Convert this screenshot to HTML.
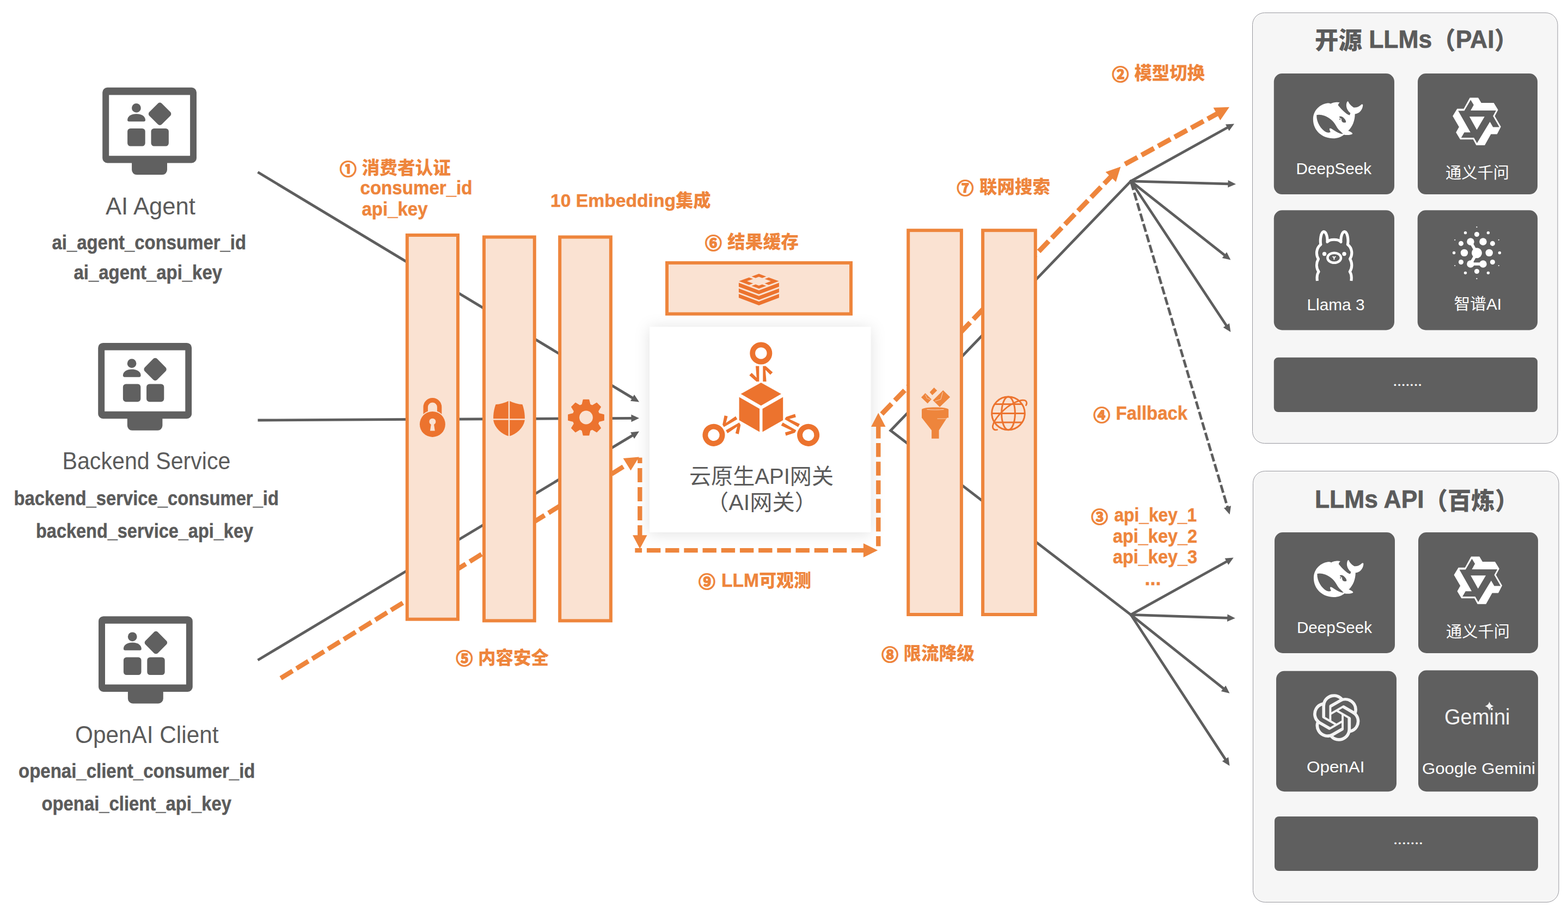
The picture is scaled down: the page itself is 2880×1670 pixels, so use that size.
<!DOCTYPE html>
<html lang="zh-CN">
<head>
<meta charset="utf-8">
<title>云原生API网关（AI网关）</title>
<style>
html,body{margin:0;padding:0;background:#fff;}
body{width:2880px;height:1670px;overflow:hidden;}
svg{display:block;font-family:'Liberation Sans', 'Noto Sans CJK SC', sans-serif;}
.cn{stroke:#EE853C;stroke-width:2.2px;stroke-linejoin:round;}
.ttl{stroke:#5B5B5B;stroke-width:0.7px;}
.bl{stroke:#5B5B5B;stroke-width:0.5px;}
.ob{stroke:#EE853C;stroke-width:0.5px;}
</style>
</head>
<body>
<svg width="2880" height="1670" viewBox="0 0 2880 1670">
<defs>
<filter id="sh" x="-25%" y="-25%" width="150%" height="150%"><feDropShadow dx="0" dy="2" stdDeviation="14" flood-color="#000000" flood-opacity="0.12"/></filter>
</defs>
<!-- client request lines -->
<line x1="473.5" y1="316.3" x2="1162.75" y2="731.62" stroke="#5E5E5E" stroke-width="4.8" stroke-linecap="butt"/>
<polygon points="1174,738.4 1157.99,736.69 1165,725.04" fill="#5E5E5E"/>
<line x1="473.5" y1="772" x2="1160.86" y2="768.37" stroke="#5E5E5E" stroke-width="4.8" stroke-linecap="butt"/>
<polygon points="1174,768.3 1159.44,775.18 1159.36,761.58" fill="#5E5E5E"/>
<line x1="473.5" y1="1212.8" x2="1162.73" y2="799.36" stroke="#5E5E5E" stroke-width="4.8" stroke-linecap="butt"/>
<polygon points="1174,792.6 1164.98,805.94 1157.98,794.28" fill="#5E5E5E"/>
<line x1="515.7" y1="1246" x2="1153.76" y2="851.94" stroke="#EE853C" stroke-width="8.6" stroke-linecap="butt" stroke-dasharray="25.5 8.5"/>
<polygon points="1173.9,839.5 1158.49,864.59 1144.56,842.05" fill="#EE853C"/>
<path d="M2077 332.8L1635.8 791L2077 1129.3" fill="none" stroke="#5E5E5E" stroke-width="4.8" stroke-linejoin="miter" stroke-linecap="round"/>
<line x1="2077" y1="332.8" x2="2255.51" y2="233.77" stroke="#5E5E5E" stroke-width="4.8" stroke-linecap="round"/>
<polygon points="2267,227.4 2257.53,240.43 2250.93,228.54" fill="#5E5E5E"/>
<line x1="2077" y1="332.8" x2="2256.87" y2="337.83" stroke="#5E5E5E" stroke-width="4.8" stroke-linecap="round"/>
<polygon points="2270,338.2 2255.22,344.59 2255.6,330.99" fill="#5E5E5E"/>
<line x1="2077" y1="332.8" x2="2250.09" y2="469.46" stroke="#5E5E5E" stroke-width="4.8" stroke-linecap="round"/>
<polygon points="2260.4,477.6 2244.73,473.89 2253.15,463.22" fill="#5E5E5E"/>
<line x1="2077" y1="332.8" x2="2253.15" y2="599.04" stroke="#5E5E5E" stroke-width="4.8" stroke-linecap="round"/>
<polygon points="2260.4,610 2246.67,601.58 2258.02,594.07" fill="#5E5E5E"/>
<line x1="2077.6" y1="334.8" x2="2254.86" y2="932.7" stroke="#5E5E5E" stroke-width="4.8" stroke-linecap="butt" stroke-dasharray="15 5"/>
<polygon points="2258.6,945.3 2247.93,933.24 2260.97,929.37" fill="#5E5E5E"/>
<line x1="2077" y1="1129.3" x2="2254.21" y2="1030.98" stroke="#5E5E5E" stroke-width="4.8" stroke-linecap="round"/>
<polygon points="2265.7,1024.6 2256.23,1037.63 2249.63,1025.74" fill="#5E5E5E"/>
<line x1="2077" y1="1129.3" x2="2255.67" y2="1135.35" stroke="#5E5E5E" stroke-width="4.8" stroke-linecap="round"/>
<polygon points="2268.8,1135.8 2253.98,1142.1 2254.44,1128.51" fill="#5E5E5E"/>
<line x1="2077" y1="1129.3" x2="2248.22" y2="1265.62" stroke="#5E5E5E" stroke-width="4.8" stroke-linecap="round"/>
<polygon points="2258.5,1273.8 2242.84,1270.03 2251.31,1259.39" fill="#5E5E5E"/>
<line x1="2077" y1="1129.3" x2="2251.31" y2="1395.9" stroke="#5E5E5E" stroke-width="4.8" stroke-linecap="round"/>
<polygon points="2258.5,1406.9 2244.82,1398.4 2256.2,1390.96" fill="#5E5E5E"/>
<line x1="1619.6" y1="760.6" x2="2041.96" y2="323.23" stroke="#EE853C" stroke-width="9" stroke-linecap="butt" stroke-dasharray="26 8.6"/>
<polygon points="2058.4,306.2 2049.66,334.32 2030.6,315.91" fill="#EE853C"/>
<line x1="2063.7" y1="303" x2="2237.23" y2="208.06" stroke="#EE853C" stroke-width="9" stroke-linecap="butt" stroke-dasharray="26 8.6" stroke-dashoffset="31.6"/>
<polygon points="2258,196.7 2241.29,220.95 2228.57,197.7" fill="#EE853C"/>
<!-- plugin bars -->
<rect x="747.8" y="432" width="93.2" height="705.7" fill="#FAE2D2" stroke="#EE853C" stroke-width="6"/>
<rect x="889" y="435.5" width="92.8" height="704.9" fill="#FAE2D2" stroke="#EE853C" stroke-width="6"/>
<rect x="1028.2" y="435.5" width="93.7" height="704.9" fill="#FAE2D2" stroke="#EE853C" stroke-width="6"/>
<rect x="1668.2" y="423.2" width="97.7" height="705.8" fill="#FAE2D2" stroke="#EE853C" stroke-width="6"/>
<rect x="1805.1" y="423.2" width="96.7" height="705.8" fill="#FAE2D2" stroke="#EE853C" stroke-width="6"/>
<g>
<path d="M781.7 761.4V748a12.7 12.7 0 0 1 25.4 0V761.4" fill="none" stroke="#EC732E" stroke-width="8.4"/>
<circle cx="794.4" cy="779.4" r="25.2" fill="#FAE2D2"/>
<circle cx="794.4" cy="779.4" r="23.5" fill="#EC732E"/>
<path d="M791.7 780a6 6 0 1 1 5.4 0L798.8 791.4H790Z" fill="#FAE2D2"/>
</g>
<g>
<path d="M935 736.2C943 740.2 952 742.6 959.5 743C963 752.2 964.6 764.2 963.6 773.2C961 786.2 949 797.2 935 801.6C921 797.2 909 786.2 906.4 773.2C905.4 764.2 907 752.2 910.5 743C918 742.6 927 740.2 935 736.2Z" fill="#EC732E"/>
<rect x="933.8" y="735.2" width="2.4" height="68" fill="#FAE2D2"/>
<rect x="904" y="769.2" width="62" height="2.4" fill="#FAE2D2"/>
</g>
<g>
<path d="M1069.23 743.5L1071.41 734.4L1081.59 734.4L1083.77 743.5L1087.98 745.24L1095.95 740.34L1103.16 747.55L1098.26 755.52L1100 759.73L1109.1 761.91L1109.1 772.09L1100 774.27L1098.26 778.48L1103.16 786.45L1095.95 793.66L1087.98 788.76L1083.77 790.5L1081.59 799.6L1071.41 799.6L1069.23 790.5L1065.02 788.76L1057.05 793.66L1049.84 786.45L1054.74 778.48L1053 774.27L1043.9 772.09L1043.9 761.91L1053 759.73L1054.74 755.52L1049.84 747.55L1057.05 740.34L1065.02 745.24Z" fill="#EC732E" stroke="#EC732E" stroke-width="1.5" stroke-linejoin="round"/>
<circle cx="1076.5" cy="767" r="24.6" fill="#EC732E"/>
<circle cx="1076.5" cy="767" r="12.4" fill="#FAE2D2"/>
</g>
<g fill="#EE853C">
<polygon points="1732.2,717 1745.1,729.5 1726,747.8 1713.6,735.4"/>
<polygon points="1699.5,722.2 1710.9,733.5 1703.7,741.3 1692,729.9"/>
<polygon points="1715.6,712 1721.2,717.5 1712.4,725.9 1707.6,720.6"/>
<path d="M1731.5 720.5L1728 733.5L1717.5 737" fill="none" stroke="#FAE2D2" stroke-width="0.8"/>
<path d="M1699.8 725L1702.5 731.8L1708.5 733.8" fill="none" stroke="#FAE2D2" stroke-width="0.7"/>
<path d="M1693 752.5C1693 746.8 1742.2 746.8 1742.2 752.5V767.4H1739.4L1724.6 790.4V805.8H1711.1V790.4L1693 767.4Z"/>
<path d="M1702.5 752.3C1712 753.2 1723 753.2 1733.5 752.3" fill="none" stroke="#FAE2D2" stroke-width="0.9"/>
<path d="M1721.5 769.2H1738.3" fill="none" stroke="#FAE2D2" stroke-width="0.8"/>
</g>
<g fill="none" stroke="#EC732E" stroke-width="3">
<circle cx="1852" cy="759.4" r="30.3"/>
<ellipse cx="1852" cy="759.4" rx="12.4" ry="30.3"/>
<path d="M1821.7 759.4H1882.3"/>
<path d="M1826.8 742.4H1877.2"/>
<path d="M1826.8 775.9H1877.2"/>
<path d="M1831.5 789.5C1826 791 1822.5 787.5 1823.5 782C1826 770 1845 748 1864 739.5C1872 735.5 1881 733.5 1884.5 737C1886.5 739.5 1886 742 1884.5 744.5" stroke-linecap="round" stroke-width="2.8"/>
</g>
<rect x="1225" y="482.9" width="338" height="93.8" fill="#FAE2D2" stroke="#EE853C" stroke-width="6"/>
<g fill="#EC732E">
<polygon points="1393.9,503 1407.3,507.98 1399.98,510.7 1393.9,508.44 1387.82,510.7 1380.5,507.98"/>
<polygon points="1430.5,516.6 1411.94,523.5 1404.62,520.78 1415.86,516.6 1404.62,512.42 1411.94,509.7"/>
<polygon points="1393.9,530.2 1380.5,525.22 1387.82,522.5 1393.9,524.76 1399.98,522.5 1407.3,525.22"/>
<polygon points="1357.3,516.6 1375.86,509.7 1383.18,512.42 1371.94,516.6 1383.18,520.78 1375.86,523.5"/>
<polygon points="1356.9,519.6 1393.9,533.5 1430.9,519.6 1430.9,526.7 1393.9,540.6 1356.9,526.7"/>
<polygon points="1356.9,529.9 1393.9,543.8 1430.9,529.9 1430.9,537 1393.9,550.9 1356.9,537"/>
<polygon points="1356.9,540 1393.9,553.9 1430.9,540 1430.9,547.1 1393.9,561 1356.9,547.1"/>
</g>
<!-- gateway -->
<rect x="1193.2" y="600.7" width="405.9" height="377.3" fill="#FFFFFF" filter="url(#sh)"/>
<g fill="#EC732E">
<polygon points="1397.8,702.9 1434.9,723.8 1397.8,745.3 1360.7,723.8"/>
<polygon points="1357.6,729.6 1395.1,750.9 1395.1,793.4 1357.6,772.1"/>
<polygon points="1400.5,750.9 1438.2,729.6 1438.2,772.1 1400.5,793.4"/>
<g transform="rotate(0 1397.8 749.2)">
<circle cx="1397.8" cy="648.9" r="15.6" fill="none" stroke="#EC732E" stroke-width="9.8"/>
<path d="M1388 672.5h6.3v28.5h-5L1376.3 689.5l4.4 -4.4 9 9Z"/>
<path d="M1407.6 701h-6.3v-28.5h5L1419.3 684l-4.4 4.4 -9 -9Z"/>
</g>
<g transform="rotate(120 1397.8 749.2)">
<circle cx="1397.8" cy="648.9" r="15.6" fill="none" stroke="#EC732E" stroke-width="9.8"/>
<path d="M1388 672.5h6.3v28.5h-5L1376.3 689.5l4.4 -4.4 9 9Z"/>
<path d="M1407.6 701h-6.3v-28.5h5L1419.3 684l-4.4 4.4 -9 -9Z"/>
</g>
<g transform="rotate(240 1397.8 749.2)">
<circle cx="1397.8" cy="648.9" r="15.6" fill="none" stroke="#EC732E" stroke-width="9.8"/>
<path d="M1388 672.5h6.3v28.5h-5L1376.3 689.5l4.4 -4.4 9 9Z"/>
<path d="M1407.6 701h-6.3v-28.5h5L1419.3 684l-4.4 4.4 -9 -9Z"/>
</g>
</g>
<line x1="1175.3" y1="840.8" x2="1175.3" y2="985.7" stroke="#EE853C" stroke-width="8.4" stroke-linecap="butt" stroke-dasharray="26 9" stroke-dashoffset="15.7"/>
<polygon points="1175.3,1008.2 1162.05,983.2 1188.55,983.2" fill="#EE853C"/>
<line x1="1166.3" y1="1011.1" x2="1588.53" y2="1011.1" stroke="#EE853C" stroke-width="8.4" stroke-linecap="butt" stroke-dasharray="25.4 8.8" stroke-dashoffset="12.6"/>
<polygon points="1612.2,1011.1 1585.9,1023.9 1585.9,998.3" fill="#EE853C"/>
<line x1="1613.3" y1="1003.4" x2="1613.3" y2="781.45" stroke="#EE853C" stroke-width="8.4" stroke-linecap="butt" stroke-dasharray="25.6 8.6" stroke-dashoffset="7.2"/>
<polygon points="1613.3,758.5 1626.55,784 1600.05,784" fill="#EE853C"/>
<!-- clients -->
<g transform="translate(188.2,160.8) scale(1.0000,1.0000) translate(-188.2,-160.8)" fill="#606060">
<path fill-rule="evenodd" d="M197.2 160.8H352a9 9 0 0 1 9 9V290.5a9 9 0 0 1 -9 9H307V312.1a9 9 0 0 1 -9 9H251.1a9 9 0 0 1 -9 -9V299.5H197.2a9 9 0 0 1 -9 -9V169.8a9 9 0 0 1 9 -9ZM200.2 174.4V286.2H349.1V174.4Z"/>
<circle cx="250.4" cy="198.4" r="8.4"/>
<path d="M234.1 220.5C234.1 213.5 241 209.2 250.5 209.2C260 209.2 267 213.5 267 220.5C267 222.3 265.9 223.3 264.2 223.3H236.9C235.2 223.3 234.1 222.3 234.1 220.5Z"/>
<rect x="277.5" y="193.1" width="32.2" height="32.2" rx="4.9" transform="rotate(45 293.6 209.2)"/>
<rect x="234.1" y="236" width="32.6" height="32.6" rx="5.5"/>
<rect x="277.5" y="236" width="32.4" height="32.6" rx="5.5"/>
</g>
<g transform="translate(180.2,629.9) scale(0.9950,1.0040) translate(-188.2,-160.8)" fill="#606060">
<path fill-rule="evenodd" d="M197.2 160.8H352a9 9 0 0 1 9 9V290.5a9 9 0 0 1 -9 9H307V312.1a9 9 0 0 1 -9 9H251.1a9 9 0 0 1 -9 -9V299.5H197.2a9 9 0 0 1 -9 -9V169.8a9 9 0 0 1 9 -9ZM200.2 174.4V286.2H349.1V174.4Z"/>
<circle cx="250.4" cy="198.4" r="8.4"/>
<path d="M234.1 220.5C234.1 213.5 241 209.2 250.5 209.2C260 209.2 267 213.5 267 220.5C267 222.3 265.9 223.3 264.2 223.3H236.9C235.2 223.3 234.1 222.3 234.1 220.5Z"/>
<rect x="277.5" y="193.1" width="32.2" height="32.2" rx="4.9" transform="rotate(45 293.6 209.2)"/>
<rect x="234.1" y="236" width="32.6" height="32.6" rx="5.5"/>
<rect x="277.5" y="236" width="32.4" height="32.6" rx="5.5"/>
</g>
<g transform="translate(181,1132.2) scale(1.0000,1.0000) translate(-188.2,-160.8)" fill="#606060">
<path fill-rule="evenodd" d="M197.2 160.8H352a9 9 0 0 1 9 9V290.5a9 9 0 0 1 -9 9H307V312.1a9 9 0 0 1 -9 9H251.1a9 9 0 0 1 -9 -9V299.5H197.2a9 9 0 0 1 -9 -9V169.8a9 9 0 0 1 9 -9ZM200.2 174.4V286.2H349.1V174.4Z"/>
<circle cx="250.4" cy="198.4" r="8.4"/>
<path d="M234.1 220.5C234.1 213.5 241 209.2 250.5 209.2C260 209.2 267 213.5 267 220.5C267 222.3 265.9 223.3 264.2 223.3H236.9C235.2 223.3 234.1 222.3 234.1 220.5Z"/>
<rect x="277.5" y="193.1" width="32.2" height="32.2" rx="4.9" transform="rotate(45 293.6 209.2)"/>
<rect x="234.1" y="236" width="32.6" height="32.6" rx="5.5"/>
<rect x="277.5" y="236" width="32.4" height="32.6" rx="5.5"/>
</g>
<!-- model panels -->
<rect x="2300.5" y="23.5" width="560.5" height="791" rx="22" fill="#F6F6F6" stroke="#98989E" stroke-width="1"/>
<rect x="2301.5" y="865.5" width="561.5" height="792" rx="22" fill="#F6F6F6" stroke="#98989E" stroke-width="1"/>
<rect x="2339.8" y="135.1" width="221.2" height="222" fill="#5F5F5F" rx="15"/>
<rect x="2604" y="135.1" width="220" height="222" fill="#5F5F5F" rx="15"/>
<rect x="2339.8" y="386.3" width="221.2" height="220.1" fill="#5F5F5F" rx="15"/>
<rect x="2603.7" y="386.3" width="220.4" height="220.1" fill="#5F5F5F" rx="15"/>
<rect x="2339.8" y="656.7" width="484.2" height="100.3" fill="#5F5F5F" rx="8"/>
<rect x="2341" y="978" width="221" height="222" fill="#5F5F5F" rx="15"/>
<rect x="2605" y="978" width="220" height="222" fill="#5F5F5F" rx="15"/>
<rect x="2344" y="1232.8" width="221" height="221.4" fill="#5F5F5F" rx="15"/>
<rect x="2605" y="1231.5" width="220" height="222.7" fill="#5F5F5F" rx="15"/>
<rect x="2341" y="1499.9" width="484" height="100.1" fill="#5F5F5F" rx="8"/>
<g transform="translate(2390,165) scale(0.07530)">
<path fill="#FFFFFF" d="M640 325C480 345 290 480 290 720C290 1000 520 1185 780 1185C880 1185 980 1150 1040 1095C1100 1105 1200 1110 1250 1075C1260 1050 1200 1020 1145 1000C1250 900 1310 750 1310 590C1400 590 1500 500 1505 370C1490 340 1470 350 1450 375C1400 420 1330 440 1280 430C1230 400 1170 350 1150 290C1130 270 1105 290 1100 380C1100 460 1150 530 1200 570L1180 620C1100 600 1000 500 900 380C900 350 920 325 940 310C880 290 760 310 720 340C700 330 670 322 640 325Z"/>
<path fill="#5F5F5F" d="M375 615C450 590 600 620 720 720C830 810 850 900 920 980C960 1020 1000 1050 1020 1075C950 1080 880 1040 800 990C760 960 720 930 695 940C680 960 700 1000 715 1030C690 1050 640 1050 600 1030C480 960 370 800 375 615Z"/>
<path fill="#5F5F5F" d="M925 660C950 630 1010 650 1050 700C1080 730 1100 770 1090 790C1070 810 1020 800 1000 780C980 760 985 720 975 700C960 690 940 690 925 660Z"/>
<circle cx="945" cy="716" r="15" fill="#5F5F5F"/>
</g>
<g transform="translate(2650,165) scale(0.07530)">
<polygon points="665,200 860,200 935,325 1240,325 1340,490 1260,640 1410,900 1320,1075 1170,1075 1020,1345 820,1345 745,1205 430,1205 330,1040 405,905 250,640 355,470 515,470" fill="#FFFFFF" stroke="#FFFFFF" stroke-width="14" stroke-linejoin="round"/>
<polygon points="680,245 755,370 680,505 1300,505 1225,640 1380,910 1225,910 1150,780 835,1300 760,1170 450,1170 525,1040 675,1040 375,510 525,510" fill="#5F5F5F"/>
<polygon points="650,655 1020,655 830,975" fill="#FFFFFF"/>
</g>
<g transform="translate(2380,410) scale(0.08216)" fill="none" stroke="#FFFFFF" stroke-width="62" stroke-linecap="butt" stroke-linejoin="round">
<path d="M480 1290C468 1200 480 1130 512 1085C455 1000 455 890 505 800C445 700 455 560 558 478C540 380 560 200 625 190C690 200 712 330 705 420C760 350 950 350 1010 420C1000 330 1030 200 1090 190C1160 200 1180 380 1160 478C1265 560 1275 700 1212 800C1265 890 1265 1000 1208 1085C1240 1130 1252 1200 1240 1290"/>
<ellipse cx="860" cy="775" rx="150" ry="110" stroke-width="55"/>
<circle cx="640" cy="688" r="45" fill="#FFFFFF" stroke="none"/>
<circle cx="1083" cy="688" r="45" fill="#FFFFFF" stroke="none"/>
<path d="M832 750L857 770L884 750M857 770V805" stroke-width="26" stroke-linecap="round"/>
</g>
<g transform="translate(2642,404) scale(0.08216)" fill="#FFFFFF">
<circle cx="858" cy="740" r="115"/>
<circle cx="718" cy="488" r="82"/>
<circle cx="998" cy="488" r="82"/>
<circle cx="578" cy="735" r="82"/>
<circle cx="1135" cy="735" r="82"/>
<circle cx="718" cy="985" r="82"/>
<circle cx="998" cy="985" r="82"/>
<circle cx="858" cy="322" r="55"/>
<circle cx="505" cy="528" r="55"/>
<circle cx="1210" cy="528" r="55"/>
<circle cx="505" cy="943" r="55"/>
<circle cx="1210" cy="943" r="55"/>
<circle cx="858" cy="1150" r="55"/>
<circle cx="603" cy="288" r="33"/>
<circle cx="1113" cy="288" r="33"/>
<circle cx="348" cy="737" r="33"/>
<circle cx="1368" cy="737" r="33"/>
<circle cx="603" cy="1185" r="33"/>
<circle cx="1113" cy="1185" r="33"/>
<circle cx="857" cy="160" r="13"/>
<circle cx="368" cy="447" r="13"/>
<circle cx="1348" cy="447" r="13"/>
<circle cx="368" cy="1023" r="13"/>
<circle cx="1348" cy="1023" r="13"/>
<circle cx="857" cy="1313" r="13"/>
<path d="M718 488L858 740L718 985L998 985" fill="none" stroke="#FFFFFF" stroke-width="66" stroke-linecap="round" stroke-linejoin="round"/>
</g>
<g transform="translate(2391.1,1007.8) scale(0.07530)">
<path fill="#FFFFFF" d="M640 325C480 345 290 480 290 720C290 1000 520 1185 780 1185C880 1185 980 1150 1040 1095C1100 1105 1200 1110 1250 1075C1260 1050 1200 1020 1145 1000C1250 900 1310 750 1310 590C1400 590 1500 500 1505 370C1490 340 1470 350 1450 375C1400 420 1330 440 1280 430C1230 400 1170 350 1150 290C1130 270 1105 290 1100 380C1100 460 1150 530 1200 570L1180 620C1100 600 1000 500 900 380C900 350 920 325 940 310C880 290 760 310 720 340C700 330 670 322 640 325Z"/>
<path fill="#5F5F5F" d="M375 615C450 590 600 620 720 720C830 810 850 900 920 980C960 1020 1000 1050 1020 1075C950 1080 880 1040 800 990C760 960 720 930 695 940C680 960 700 1000 715 1030C690 1050 640 1050 600 1030C480 960 370 800 375 615Z"/>
<path fill="#5F5F5F" d="M925 660C950 630 1010 650 1050 700C1080 730 1100 770 1090 790C1070 810 1020 800 1000 780C980 760 985 720 975 700C960 690 940 690 925 660Z"/>
<circle cx="945" cy="716" r="15" fill="#5F5F5F"/>
</g>
<g transform="translate(2652.3,1008) scale(0.07530)">
<polygon points="665,200 860,200 935,325 1240,325 1340,490 1260,640 1410,900 1320,1075 1170,1075 1020,1345 820,1345 745,1205 430,1205 330,1040 405,905 250,640 355,470 515,470" fill="#FFFFFF" stroke="#FFFFFF" stroke-width="14" stroke-linejoin="round"/>
<polygon points="680,245 755,370 680,505 1300,505 1225,640 1380,910 1225,910 1150,780 835,1300 760,1170 450,1170 525,1040 675,1040 375,510 525,510" fill="#5F5F5F"/>
<polygon points="650,655 1020,655 830,975" fill="#FFFFFF"/>
</g>
<path transform="translate(2411.45,1275.15) scale(3.6042)" fill="#F4F4F4" d="M22.2819 9.8211a5.9847 5.9847 0 0 0-.5157-4.9108 6.0462 6.0462 0 0 0-6.5098-2.9A6.0651 6.0651 0 0 0 4.9807 4.1818a5.9847 5.9847 0 0 0-3.9977 2.9 6.0462 6.0462 0 0 0 .7427 7.0966 5.98 5.98 0 0 0 .511 4.9107 6.051 6.051 0 0 0 6.5146 2.9001A5.9847 5.9847 0 0 0 13.2599 24a6.0557 6.0557 0 0 0 5.7718-4.2058 5.9894 5.9894 0 0 0 3.9977-2.9001 6.0557 6.0557 0 0 0-.7475-7.0729zm-9.022 12.6081a4.4755 4.4755 0 0 1-2.8764-1.0408l.1419-.0804 4.7783-2.7582a.7948.7948 0 0 0 .3927-.6813v-6.7369l2.02 1.1686a.071.071 0 0 1 .038.052v5.5826a4.504 4.504 0 0 1-4.4945 4.4944zm-9.6607-4.1254a4.4708 4.4708 0 0 1-.5346-3.0137l.142.0852 4.783 2.7582a.7712.7712 0 0 0 .7806 0l5.8428-3.3685v2.3324a.0804.0804 0 0 1-.0332.0615L9.74 19.9502a4.4992 4.4992 0 0 1-6.1408-1.6464zM2.3408 7.8956a4.485 4.485 0 0 1 2.3655-1.9728V11.6a.7664.7664 0 0 0 .3879.6765l5.8144 3.3543-2.0201 1.1685a.0757.0757 0 0 1-.071 0l-4.8303-2.7865A4.504 4.504 0 0 1 2.3408 7.872zm16.5963 3.8558L13.1038 8.364 15.1192 7.2a.0757.0757 0 0 1 .071 0l4.8303 2.7913a4.4944 4.4944 0 0 1-.6765 8.1042v-5.6772a.79.79 0 0 0-.407-.667zm2.0107-3.0231l-.142-.0852-4.7735-2.7818a.7759.7759 0 0 0-.7854 0L9.409 9.2297V6.8974a.0662.0662 0 0 1 .0284-.0615l4.8303-2.7866a4.4992 4.4992 0 0 1 6.6802 4.66zM8.3065 12.863l-2.02-1.1638a.0804.0804 0 0 1-.038-.0567V6.0742a4.4992 4.4992 0 0 1 7.3757-3.4537l-.142.0805L8.704 5.459a.7948.7948 0 0 0-.3927.6813zm1.0976-2.3654l2.602-1.4998 2.6069 1.4998v2.9994l-2.5974 1.4997-2.6067-1.4997Z"/>
<text x="2652.9" y="1331.1" font-size="41" font-weight="400" fill="#F2F2F2" text-anchor="start" textLength="120.7" lengthAdjust="spacingAndGlyphs">Gemini</text>
<path fill="#F2F2F2" d="M2735.6 1289.1C2736.8 1293.7 2739.2 1296.1 2743.8 1297.3C2739.2 1298.5 2736.8 1300.9 2735.6 1305.5C2734.4 1300.9 2732 1298.5 2727.4 1297.3C2732 1296.1 2734.4 1293.7 2735.6 1289.1Z"/>
<!-- labels -->
<text x="194" y="393.7" font-size="43.6" font-weight="400" fill="#5B5B5B" text-anchor="start" textLength="165" lengthAdjust="spacingAndGlyphs">AI Agent</text>
<text x="114.5" y="862.2" font-size="43.6" font-weight="400" fill="#5B5B5B" text-anchor="start" textLength="309" lengthAdjust="spacingAndGlyphs">Backend Service</text>
<text x="138" y="1364.5" font-size="43.6" font-weight="400" fill="#5B5B5B" text-anchor="start" textLength="263.5" lengthAdjust="spacingAndGlyphs">OpenAI Client</text>
<text x="95.5" y="457.9" font-size="37" font-weight="700" fill="#5B5B5B" text-anchor="start" textLength="356.5" lengthAdjust="spacingAndGlyphs" class="bl">ai_agent_consumer_id</text>
<text x="135.5" y="513.2" font-size="37" font-weight="700" fill="#5B5B5B" text-anchor="start" textLength="272.5" lengthAdjust="spacingAndGlyphs" class="bl">ai_agent_api_key</text>
<text x="25.5" y="927.6" font-size="37" font-weight="700" fill="#5B5B5B" text-anchor="start" textLength="486.5" lengthAdjust="spacingAndGlyphs" class="bl">backend_service_consumer_id</text>
<text x="66" y="987.9" font-size="37" font-weight="700" fill="#5B5B5B" text-anchor="start" textLength="399" lengthAdjust="spacingAndGlyphs" class="bl">backend_service_api_key</text>
<text x="34" y="1429.1" font-size="37" font-weight="700" fill="#5B5B5B" text-anchor="start" textLength="434.5" lengthAdjust="spacingAndGlyphs" class="bl">openai_client_consumer_id</text>
<text x="76.5" y="1489.4" font-size="37" font-weight="700" fill="#5B5B5B" text-anchor="start" textLength="348.5" lengthAdjust="spacingAndGlyphs" class="bl">openai_client_api_key</text>
<text x="639.5" y="321.51" font-size="30.3" font-weight="500" fill="#EE853C" text-anchor="middle" class="cn">①</text>
<text x="664.5" y="320.39" font-size="32.6" font-weight="900" fill="#EE853C" text-anchor="start" textLength="163.5" lengthAdjust="spacingAndGlyphs">消费者认证</text>
<text x="1310.4" y="457.61" font-size="30.3" font-weight="500" fill="#EE853C" text-anchor="middle" class="cn">⑥</text>
<text x="1336" y="455.89" font-size="32.6" font-weight="900" fill="#EE853C" text-anchor="start" textLength="131" lengthAdjust="spacingAndGlyphs">结果缓存</text>
<text x="852.9" y="1220.71" font-size="30.3" font-weight="500" fill="#EE853C" text-anchor="middle" class="cn">⑤</text>
<text x="878" y="1219.64" font-size="32.6" font-weight="900" fill="#EE853C" text-anchor="start" textLength="130" lengthAdjust="spacingAndGlyphs">内容安全</text>
<text x="1298.5" y="1079.71" font-size="30.3" font-weight="500" fill="#EE853C" text-anchor="middle" class="cn">⑨</text>
<text x="1325" y="1077.89" font-size="32.6" font-weight="900" fill="#EE853C" text-anchor="start" textLength="165" lengthAdjust="spacingAndGlyphs"><tspan font-size="34.3" font-weight="700" class="ob">LLM</tspan>可观测</text>
<text x="1634.6" y="1213.71" font-size="30.3" font-weight="500" fill="#EE853C" text-anchor="middle" class="cn">⑧</text>
<text x="1659.5" y="1211.89" font-size="32.6" font-weight="900" fill="#EE853C" text-anchor="start" textLength="130.5" lengthAdjust="spacingAndGlyphs">限流降级</text>
<text x="2057.9" y="147.71" font-size="30.3" font-weight="500" fill="#EE853C" text-anchor="middle" class="cn">②</text>
<text x="2083.5" y="145.89" font-size="32.6" font-weight="900" fill="#EE853C" text-anchor="start" textLength="129.5" lengthAdjust="spacingAndGlyphs">模型切换</text>
<text x="1772.9" y="356.51" font-size="30.3" font-weight="500" fill="#EE853C" text-anchor="middle" class="cn">⑦</text>
<text x="1799" y="355.39" font-size="32.6" font-weight="900" fill="#EE853C" text-anchor="start" textLength="130" lengthAdjust="spacingAndGlyphs">联网搜索</text>
<text x="2023.6" y="774.41" font-size="30.3" font-weight="500" fill="#EE853C" text-anchor="middle" class="cn">④</text>
<text x="2049.5" y="771.2" font-size="34.8" font-weight="700" fill="#EE853C" text-anchor="start" textLength="131.5" lengthAdjust="spacingAndGlyphs" class="ob">Fallback</text>
<text x="2019.7" y="960.91" font-size="30.3" font-weight="500" fill="#EE853C" text-anchor="middle" class="cn">③</text>
<text x="2046.5" y="958" font-size="34.8" font-weight="700" fill="#EE853C" text-anchor="start" textLength="151.5" lengthAdjust="spacingAndGlyphs" class="ob">api_key_1</text>
<text x="2044" y="996.5" font-size="34.8" font-weight="700" fill="#EE853C" text-anchor="start" textLength="155" lengthAdjust="spacingAndGlyphs" class="ob">api_key_2</text>
<text x="2044" y="1035.3" font-size="34.8" font-weight="700" fill="#EE853C" text-anchor="start" textLength="155" lengthAdjust="spacingAndGlyphs" class="ob">api_key_3</text>
<text x="2102.5" y="1075.2" font-size="34.8" font-weight="700" fill="#EE853C" text-anchor="start" textLength="30" lengthAdjust="spacingAndGlyphs" class="ob">...</text>
<text x="661.5" y="357.1" font-size="34.8" font-weight="700" fill="#EE853C" text-anchor="start" textLength="206" lengthAdjust="spacingAndGlyphs" class="ob">consumer_id</text>
<text x="664.5" y="396.2" font-size="34.8" font-weight="700" fill="#EE853C" text-anchor="start" textLength="121" lengthAdjust="spacingAndGlyphs" class="ob">api_key</text>
<text x="1011" y="380.1" font-size="32.6" font-weight="900" fill="#EE853C" text-anchor="start" textLength="294.5" lengthAdjust="spacingAndGlyphs"><tspan font-size="34" font-weight="700" class="ob">10 Embedding</tspan>集成</text>
<text x="1266" y="888.8" font-size="40" font-weight="400" fill="#5B5B5B" text-anchor="start" textLength="265" lengthAdjust="spacingAndGlyphs">云原生API网关</text>
<text x="1297" y="936.5" font-size="40" font-weight="400" fill="#5B5B5B" text-anchor="start" textLength="204" lengthAdjust="spacingAndGlyphs">（AI网关）</text>
<text x="2415" y="87.6" font-size="44.5" font-weight="900" fill="#5B5B5B" text-anchor="start" textLength="373" lengthAdjust="spacingAndGlyphs"><tspan dy="2.6">开源</tspan><tspan dy="-2.6" font-size="45.6" font-weight="700" class="ttl"> LLMs</tspan><tspan dy="2.6">（</tspan><tspan dy="-2.6" font-size="45.6" font-weight="700" class="ttl">PAI</tspan><tspan dy="2.6">）</tspan></text>
<text x="2415" y="933.4" font-size="44.5" font-weight="900" fill="#5B5B5B" text-anchor="start" textLength="374" lengthAdjust="spacingAndGlyphs"><tspan font-size="45.6" font-weight="700" class="ttl">LLMs API</tspan><tspan dy="2.6">（百炼）</tspan></text>
<text x="2380.5" y="320" font-size="29" font-weight="400" fill="#FFFFFF" text-anchor="start" textLength="138.5" lengthAdjust="spacingAndGlyphs">DeepSeek</text>
<text x="2655" y="328.02" font-size="29" font-weight="400" fill="#FFFFFF" text-anchor="start" textLength="117" lengthAdjust="spacingAndGlyphs">通义千问</text>
<text x="2400.5" y="570" font-size="29" font-weight="400" fill="#FFFFFF" text-anchor="start" textLength="106" lengthAdjust="spacingAndGlyphs">Llama 3</text>
<text x="2670.5" y="568.52" font-size="29" font-weight="400" fill="#FFFFFF" text-anchor="start" textLength="87.5" lengthAdjust="spacingAndGlyphs">智谱AI</text>
<text x="2382" y="1162.6" font-size="29" font-weight="400" fill="#FFFFFF" text-anchor="start" textLength="138" lengthAdjust="spacingAndGlyphs">DeepSeek</text>
<text x="2656" y="1170.52" font-size="29" font-weight="400" fill="#FFFFFF" text-anchor="start" textLength="117" lengthAdjust="spacingAndGlyphs">通义千问</text>
<text x="2400" y="1419.4" font-size="29" font-weight="400" fill="#FFFFFF" text-anchor="start" textLength="106.5" lengthAdjust="spacingAndGlyphs">OpenAI</text>
<text x="2612" y="1422" font-size="29" font-weight="400" fill="#FFFFFF" text-anchor="start" textLength="208" lengthAdjust="spacingAndGlyphs">Google Gemini</text>
<text x="2586.75" y="711.79" font-size="13.5" fill="#FFFFFF" text-anchor="middle" letter-spacing="2.91">•••••••</text>
<text x="2588.1" y="1553.99" font-size="13.5" fill="#FFFFFF" text-anchor="middle" letter-spacing="3.06">•••••••</text>
</svg>
</body>
</html>
